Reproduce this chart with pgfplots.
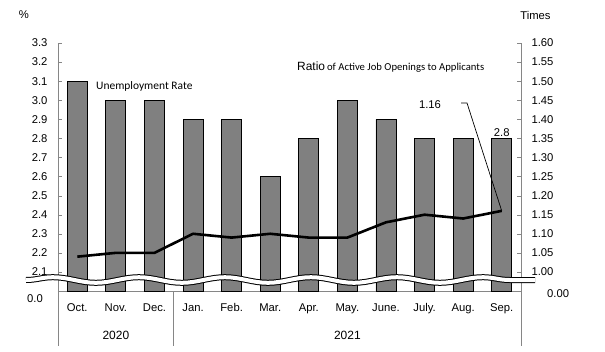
\documentclass[border=0pt]{standalone}
\usepackage{fontspec}
\setmainfont{Liberation Sans}
\newfontfamily\calib{Carlito}
\usepackage{pgfplots}
\pgfplotsset{compat=1.18}
\usetikzlibrary{decorations.pathmorphing}
\definecolor{barg}{HTML}{808080}
\definecolor{axg}{HTML}{868686}
\begin{document}
\begin{tikzpicture}[x=1bp,y=1bp]
\useasboundingbox (-58,-60) rectangle (547,291);
\begin{axis}[
  at={(0,0)}, anchor=south west,
  scale only axis, width=463bp, height=248bp,
  xmin=-0.5, xmax=11.5, ymin=2.0, ymax=3.3,
  axis x line*=bottom, axis y line*=left,
  axis line style={axg}, 
  ytick={2.1,2.2,2.3,2.4,2.5,2.6,2.7,2.8,2.9,3.0,3.1,3.2,3.3},
  yticklabel style={/pgf/number format/fixed, /pgf/number format/fixed zerofill, /pgf/number format/precision=1, /pgf/number format/assume math mode=true, font=\fontsize{11.3}{13}\selectfont, xshift=-7bp},
  ytick style={axg},
  tick align=inside, major tick length=4bp,
  xtick={0,1,2,3,4,5,6,7,8,9,10,11},
  xticklabels={Oct.,Nov.,Dec.,Jan.,Feb.,Mar.,Apr.,May.,June.,July.,Aug.,Sep.},
  xtick style={draw=none},
  xticklabel style={font=\fontsize{11.3}{13}\selectfont, yshift=-9bp},
  clip=true,
]
\addplot[ybar, bar width=20bp, fill=barg, draw=black, line width=0.9bp, bar shift=0bp]
  coordinates {(0,3.1)(1,3.0)(2,3.0)(3,2.9)(4,2.9)(5,2.6)(6,2.8)(7,3.0)(8,2.9)(9,2.8)(10,2.8)(11,2.8)};
\coordinate (sepbar) at (axis cs:11,2.8);
\coordinate (yr20) at (axis cs:1,2.0);
\coordinate (yr21) at (axis cs:7,2.0);
\end{axis}
\begin{axis}[
  at={(0,0)}, anchor=south west,
  scale only axis, width=463bp, height=248bp,
  xmin=-0.5, xmax=11.5, ymin=0.95, ymax=1.60,
  axis x line=none, axis y line*=right,
  axis line style={axg},
  ytick={1.00,1.05,1.10,1.15,1.20,1.25,1.30,1.35,1.40,1.45,1.50,1.55,1.60},
  yticklabel style={/pgf/number format/fixed, /pgf/number format/fixed zerofill, /pgf/number format/precision=2, /pgf/number format/assume math mode=true, font=\fontsize{11.3}{13}\selectfont, xshift=7bp},
  ytick style={axg},
  tick align=inside, major tick length=4bp,
]
\addplot[black, line width=2.6bp, line join=round]
  coordinates {(0,1.04)(1,1.05)(2,1.05)(3,1.10)(4,1.09)(5,1.10)(6,1.09)(7,1.09)(8,1.13)(9,1.15)(10,1.14)(11,1.16)};
\coordinate (sepline) at (axis cs:11,1.16);
\end{axis}
% axis break
\draw[black, line width=6bp, decorate, decoration={snake, segment length=86bp, amplitude=2.8bp}] (-32,11) -- (477,11);
\draw[white, line width=4bp, decorate, decoration={snake, segment length=86bp, amplitude=2.8bp}] (-32,11) -- (477,11);
% separators below axis
\draw[axg, line width=0.8bp] (0,0) -- (0,-55);
\draw[axg, line width=0.8bp] (115.75,0) -- (115.75,-55);
\draw[axg, line width=0.8bp] (463,0) -- (463,-55);
% years
\node[font=\fontsize{12}{14}\selectfont] at ([yshift=-44bp]yr20) {2020};
\node[font=\fontsize{12}{14}\selectfont] at ([yshift=-44bp]yr21) {2021};
% zero labels
\node[anchor=east, font=\fontsize{11.3}{13}\selectfont, inner sep=0pt] at (-15,-8) {0.0};
\node[anchor=west, font=\fontsize{11.3}{13}\selectfont, inner sep=0pt] at (489,-3) {0.00};
% units
\node[font=\fontsize{11.3}{13}\selectfont] at (-34,276) {\%};
\node[font=\fontsize{11.3}{13}\selectfont] at (477.5,276) {Times};
% series labels
\node[anchor=west, inner sep=0pt] at (38,205) {\calib\fontsize{11.5}{13}\selectfont Unemployment Rate};
\node[anchor=west, inner sep=0pt] at (239,224) {\fontsize{12}{14}\selectfont Ratio\,\calib\fontsize{10.7}{12}\selectfont of Active Job Openings to Applicants};
\node[font=\fontsize{11.3}{13}\selectfont] at (372,186) {1.16};
\node[font=\fontsize{11.3}{13}\selectfont, anchor=south, inner sep=1.5bp] at (sepbar) {2.8};
\draw[black, line width=0.7bp] (403,188) -- (409,188) -- (sepline);
\end{tikzpicture}
\end{document}
